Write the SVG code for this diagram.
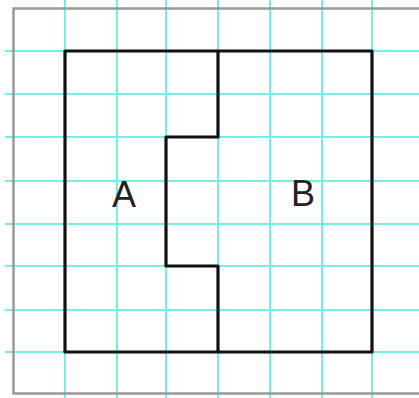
<svg xmlns="http://www.w3.org/2000/svg" width="419" height="398" viewBox="0 0 419 398">
<style>
.grid line{stroke:#74eee8;stroke-width:2}
.shape{fill:none;stroke:#111;stroke-width:3.2;stroke-linejoin:round}
.lbl{font-family:"Liberation Sans",Arial,sans-serif;font-size:36px;fill:#222;text-anchor:middle}
.frame{fill:none;stroke:#999;stroke-width:2.5}
</style>
<rect width="419" height="398" fill="#fff"/>
<g class="grid" id="grid">
<line x1="65" y1="0" x2="65" y2="398"/>
<line x1="117" y1="0" x2="117" y2="398"/>
<line x1="166" y1="0" x2="166" y2="398"/>
<line x1="218" y1="0" x2="218" y2="398"/>
<line x1="270" y1="0" x2="270" y2="398"/>
<line x1="322" y1="0" x2="322" y2="398"/>
<line x1="372" y1="0" x2="372" y2="398"/>
<line x1="5" y1="51" x2="419" y2="51"/>
<line x1="5" y1="94" x2="419" y2="94"/>
<line x1="5" y1="137" x2="419" y2="137"/>
<line x1="5" y1="181" x2="419" y2="181"/>
<line x1="5" y1="224" x2="419" y2="224"/>
<line x1="5" y1="266" x2="419" y2="266"/>
<line x1="5" y1="310" x2="419" y2="310"/>
<line x1="5" y1="352" x2="419" y2="352"/>
</g>
<polyline class="frame" points="419,8.5 13.5,8.5 13.5,393.5 419,393.5"/>
<g id="outline">
<rect class="shape" x="65" y="51" width="307" height="301"/>
<polyline class="shape" points="218,51 218,137 166,137 166,266 218,266 218,352"/>
</g>
<g id="A"><text class="lbl" x="124" y="207">A</text></g>
<g id="B"><text class="lbl" x="303" y="206">B</text></g>
</svg>
